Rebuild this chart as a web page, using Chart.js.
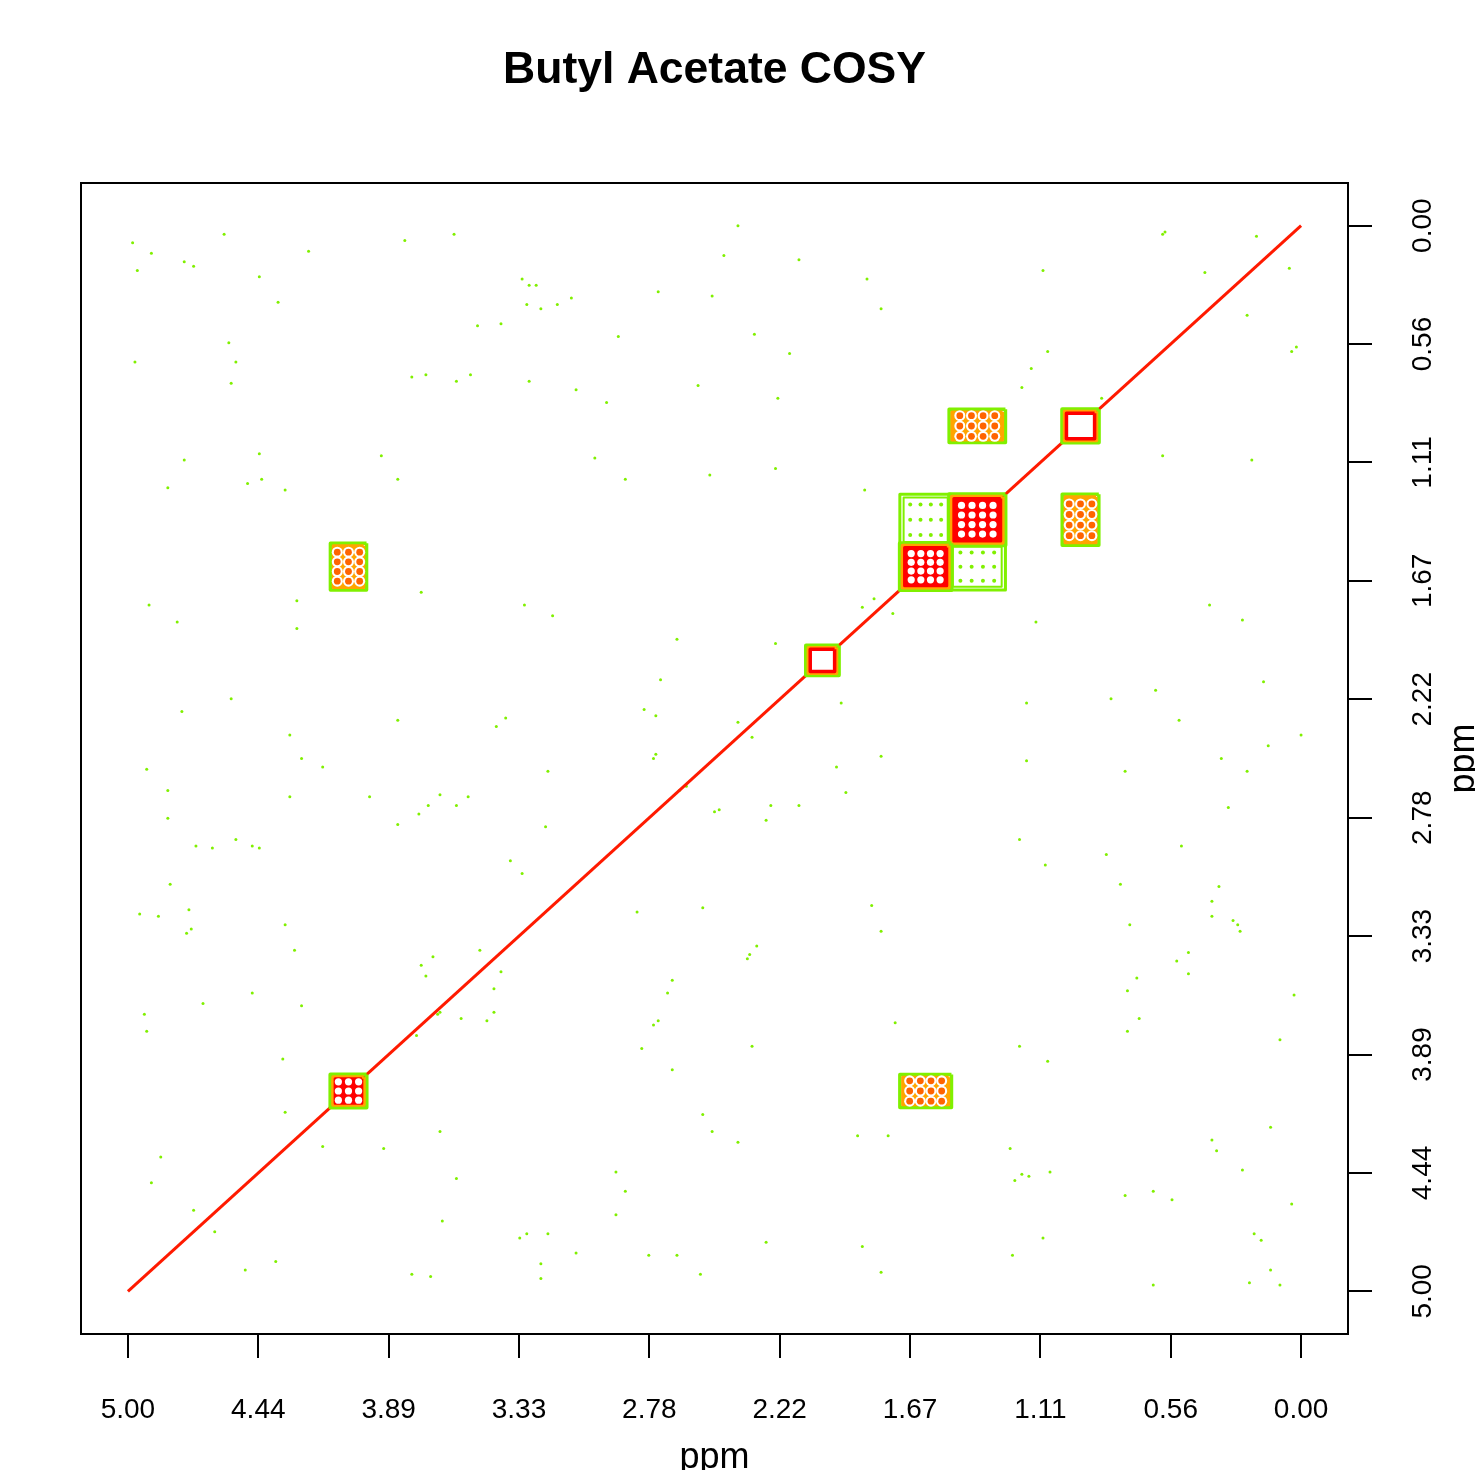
<!DOCTYPE html>
<html>
<head>
<meta charset="utf-8">
<title>Butyl Acetate COSY</title>
<script src="https://cdn.jsdelivr.net/npm/chart.js@4.4.1/dist/chart.umd.min.js"></script>
<style>
  html, body { margin: 0; padding: 0; background: #fff; }
  #wrap { width: 1475px; height: 1470px; }
</style>
</head>
<body>
<div id="wrap"><canvas id="cosy" width="1475" height="1470"></canvas></div>
<script>
// chemical shifts of the butyl acetate multiplets (ppm)
const shifts = [0.94, 1.38, 1.60, 2.04, 4.06];
const halfWidths = [0.078, 0.12, 0.11, 0.07, 0.077];
const multiplets = [3, 4, 4, 1, 3];
const hollowDiag = [true, false, false, true, false];
// cross peaks as [x shift index, y shift index]
const crossPeaks = [[1, 0], [0, 1], [4, 2], [2, 4]];
const weakCross = [[2, 1], [1, 2]];
const tickValues = [0, 5 / 9, 10 / 9, 15 / 9, 20 / 9, 25 / 9, 30 / 9, 35 / 9, 40 / 9, 5];

// low level noise specks
const noiseX = [
  4.98, 4.96, 4.90, 4.76, 4.72, 4.59, 4.44, 4.36, 4.23, 3.82, 3.61, 3.32, 3.29, 3.26, 3.30, 3.24,
  3.17, 3.11, 2.74, 2.51, 2.46, 2.40, 2.14, 1.85, 1.79, 1.10, 0.59, 0.58, 0.41, 0.19, 0.05, 0.23,
  4.97, 4.57, 4.54, 4.56, 3.79, 3.73, 3.60, 3.54, 3.51, 3.41, 3.29, 3.09, 2.91, 2.96, 2.57, 2.33,
  2.18, 2.23, 1.19, 1.15, 1.08, 0.02, 0.04, 0.85,
  4.76, 4.83, 4.49, 4.44, 4.43, 4.33, 3.92, 3.85, 3.01, 2.88, 2.52, 2.24, 1.86, 0.59, 0.21,
  4.91, 4.79, 4.28, 4.28, 3.75, 3.31, 3.19, 2.66, 2.73, 2.24, 1.87, 1.82, 1.74, 1.13, 0.39, 0.25,
  0.16, 0.62, 0.81, 1.17, 1.96, 4.56, 4.77, 2.80, 2.75,
  4.92, 4.83, 4.83, 4.31, 4.26, 4.17, 4.31, 3.85, 3.97, 3.43, 3.39, 3.21, 3.67, 3.72, 3.76, 3.60,
  3.55, 3.22, 2.75, 2.76, 2.62, 2.65, 2.40, 2.34, 2.26, 2.50, 2.48, 2.14, 2.28, 1.98, 1.94, 1.79,
  1.17, 0.75, 0.34, 0.23, 0.14, 0.00, 0.52, 0.31, 3.85,
  4.71, 4.64, 4.54, 4.47, 4.44, 4.82, 4.95, 4.87, 4.74, 4.75, 4.73, 4.33, 4.29, 3.37, 3.32, 2.83,
  2.55, 1.83, 1.79, 1.20, 1.09, 0.83, 0.51, 0.77, 0.73, 0.35, 0.38, 0.38, 0.29, 0.27, 0.26, 0.53,
  4.93, 4.92, 4.68, 4.47, 4.26, 3.75, 3.70, 3.73, 3.77, 3.68, 3.67, 3.58, 3.47, 3.44, 3.50, 3.41,
  3.44, 2.68, 2.70, 2.76, 2.74, 2.81, 2.36, 2.35, 2.32, 2.34, 1.73, 1.20, 1.08, 0.74, 0.70, 0.74,
  0.69, 0.48, 0.48, 0.03, 0.09,
  4.34, 4.33, 4.17, 3.91, 3.67, 3.60, 2.68, 2.55, 2.51, 2.40, 1.89, 1.76, 1.24, 1.19, 1.16, 1.22,
  1.07, 0.38, 0.36, 0.25, 0.13, 4.86, 4.90,
  4.72, 4.63, 4.50, 4.37, 3.79, 3.71, 3.66, 3.33, 3.30, 3.21, 3.24, 3.24, 3.09, 2.92, 2.88, 2.92,
  2.78, 2.66, 2.56, 2.28, 1.87, 1.79, 1.23, 1.10, 0.75, 0.63, 0.55, 0.63, 0.04, 0.20, 0.17, 0.13,
  0.22, 0.09,
];
const noiseY = [
  0.08, 0.21, 0.13, 0.17, 0.19, 0.04, 0.24, 0.36, 0.12, 0.07, 0.04, 0.25, 0.28, 0.28, 0.37, 0.39,
  0.37, 0.34, 0.31, 0.33, 0.14, 0.00, 0.16, 0.25, 0.39, 0.21, 0.04, 0.03, 0.22, 0.05, 0.20, 0.42,
  0.64, 0.55, 0.64, 0.74, 0.71, 0.70, 0.73, 0.70, 0.47, 0.46, 0.73, 0.77, 0.52, 0.83, 0.75, 0.51,
  0.60, 0.81, 0.76, 0.67, 0.59, 0.57, 0.59, 0.81,
  1.10, 1.23, 1.21, 1.07, 1.19, 1.24, 1.08, 1.19, 1.09, 1.19, 1.17, 1.14, 1.24, 1.08, 1.10,
  1.78, 1.86, 1.76, 1.89, 1.72, 1.78, 1.83, 1.94, 2.13, 1.96, 1.79, 1.75, 1.82, 1.86, 1.78, 1.85,
  2.14, 2.18, 2.22, 2.24, 2.24, 2.22, 2.28, 2.27, 2.30,
  2.55, 2.65, 2.78, 2.39, 2.50, 2.54, 2.68, 2.32, 2.68, 2.35, 2.31, 2.56, 2.67, 2.72, 2.76, 2.72,
  2.68, 2.82, 2.48, 2.50, 2.63, 2.65, 2.33, 2.40, 2.72, 2.75, 2.74, 2.72, 2.79, 2.54, 2.66, 2.49,
  2.51, 2.56, 2.50, 2.56, 2.44, 2.39, 2.32, 2.73, 2.81,
  2.91, 2.92, 2.88, 2.91, 2.92, 3.09, 3.23, 3.24, 3.21, 3.32, 3.30, 3.28, 3.40, 2.98, 3.04, 3.22,
  3.20, 3.19, 3.31, 2.88, 3.00, 2.95, 2.91, 3.09, 3.28, 3.10, 3.17, 3.24, 3.26, 3.28, 3.31, 3.45,
  3.70, 3.78, 3.65, 3.60, 3.66, 3.47, 3.43, 3.52, 3.80, 3.70, 3.69, 3.72, 3.73, 3.69, 3.40, 3.50,
  3.58, 3.54, 3.60, 3.75, 3.73, 3.86, 3.44, 3.42, 3.38, 3.85, 3.74, 3.85, 3.92, 3.59, 3.53, 3.78,
  3.72, 3.41, 3.51, 3.61, 3.82,
  3.91, 4.16, 4.32, 4.33, 4.25, 4.47, 3.96, 4.17, 4.25, 4.30, 4.27, 4.27, 4.33, 4.45, 4.46, 4.48,
  4.44, 4.29, 4.34, 4.43, 4.23, 4.37, 4.49,
  4.62, 4.72, 4.90, 4.86, 4.92, 4.93, 4.67, 4.75, 4.73, 4.73, 4.87, 4.94, 4.82, 4.44, 4.53, 4.64,
  4.83, 4.83, 4.92, 4.77, 4.79, 4.91, 4.83, 4.75, 4.55, 4.53, 4.57, 4.97, 4.59, 4.73, 4.76, 4.90,
  4.96, 4.97,
];

const FONT = '"Liberation Sans", Arial, Helvetica, sans-serif';
const GREEN = "#80f000";
const ORANGE = "#ffa500";
const DOT = "#ff6400";
const RED = "#ff0000";

// datasets are pushed bottom-first and reversed before use
const layers = [];

function box(cx, cy, hx, hy) {
  return [
    { x: cx - hx, y: cy - hy },
    { x: cx + hx, y: cy - hy },
    { x: cx + hx, y: cy + hy },
    { x: cx - hx, y: cy + hy },
    { x: cx - hx, y: cy - hy },
  ];
}

function outline(pts, color, width) {
  layers.push({
    data: pts, showLine: true, borderColor: color, borderWidth: width,
    borderJoinStyle: "round", pointRadius: 0, fill: false,
  });
}

function filled(pts, fillColor, edgeColor, width) {
  layers.push({
    data: pts, showLine: true, borderColor: edgeColor, borderWidth: width,
    borderJoinStyle: "round", backgroundColor: fillColor, fill: "shape", pointRadius: 0,
  });
}

function spots(cx, cy, hx, hy, nx, ny, color, r) {
  const pts = [];
  for (let i = 0; i < nx; i++) {
    for (let j = 0; j < ny; j++) {
      const x = nx === 1 ? cx : cx - hx + (2 * hx * i) / (nx - 1);
      const y = ny === 1 ? cy : cy - hy + (2 * hy * j) / (ny - 1);
      pts.push({ x, y });
    }
  }
  layers.push({
    data: pts, backgroundColor: color, borderWidth: 0, pointRadius: r,
    pointStyle: "circle", showLine: false,
  });
}

// noise
layers.push({
  data: noiseX.map((x, i) => ({ x, y: noiseY[i] })),
  backgroundColor: GREEN, borderWidth: 0, pointRadius: 1.5, showLine: false,
});

// diagonal
layers.push({
  data: [{ x: 5, y: 5 }, { x: 0, y: 0 }],
  showLine: true, borderColor: "#ff1a00", borderWidth: 3, pointRadius: 0, fill: false,
});

// weak cross peaks between the two middle CH2 groups
for (const [ix, iy] of weakCross) {
  const cx = shifts[ix], cy = shifts[iy];
  const hx = halfWidths[ix], hy = halfWidths[iy];
  outline(box(cx, cy, hx, hy), GREEN, 3);
  outline(box(cx, cy, hx - 0.016, hy - 0.016), GREEN, 2);
  spots(cx, cy, hx * 0.6, hy * 0.6, multiplets[ix], multiplets[iy] - 1, GREEN, 2);
}

// cross peaks
for (const [ix, iy] of crossPeaks) {
  const cx = shifts[ix], cy = shifts[iy];
  const hx = halfWidths[ix], hy = halfWidths[iy];
  outline(box(cx, cy, hx, hy), GREEN, 3.5);
  filled(box(cx, cy, hx - 0.012, hy - 0.012), ORANGE, ORANGE, 3);
  spots(cx, cy, hx * 0.62, hy * 0.62, multiplets[ix], multiplets[iy], "#ffffff", 5.5);
  spots(cx, cy, hx * 0.62, hy * 0.62, multiplets[ix], multiplets[iy], DOT, 3.4);
}

// diagonal peaks
shifts.forEach((s, i) => {
  const h = halfWidths[i];
  outline(box(s, s, h, h), GREEN, 4);
  if (hollowDiag[i]) {
    outline(box(s, s, h - 0.01, h - 0.01), ORANGE, 3.5);
    filled(box(s, s, h - 0.018, h - 0.018), "#ffffff", RED, 3.5);
  } else {
    outline(box(s, s, h - 0.012, h - 0.012), ORANGE, 4);
    filled(box(s, s, h - 0.02, h - 0.02), RED, RED, 3);
    spots(s, s, h * 0.56, h * 0.56, multiplets[i], multiplets[i], "#ffffff", 3.6);
  }
});

const plotBox = {
  id: "plotBox",
  afterDraw(chart) {
    const { ctx, chartArea: a } = chart;
    ctx.save();
    ctx.strokeStyle = "#000";
    ctx.lineWidth = 2;
    ctx.strokeRect(a.left, a.top, a.right - a.left, a.bottom - a.top);
    ctx.restore();
  },
};

// right axis labels read bottom to top
const rightLabels = {
  id: "rightLabels",
  afterDraw(chart) {
    const { ctx, chartArea: a } = chart;
    const y = chart.scales.y;
    ctx.save();
    ctx.fillStyle = "#000";
    ctx.textAlign = "center";
    ctx.textBaseline = "alphabetic";
    ctx.font = `28px ${FONT}`;
    for (const v of tickValues) {
      ctx.save();
      ctx.translate(y.left + 83, y.getPixelForValue(v));
      ctx.rotate(-Math.PI / 2);
      ctx.fillText(v.toFixed(2), 0, 0);
      ctx.restore();
    }
    ctx.font = `36px ${FONT}`;
    ctx.translate(y.left + 126, (a.top + a.bottom) / 2);
    ctx.rotate(-Math.PI / 2);
    ctx.fillText("ppm", 0, 0);
    ctx.restore();
  },
};

const tickMarks = { drawOnChartArea: false, drawTicks: true, tickLength: 24, color: "#000", lineWidth: 2 };

new Chart(document.getElementById("cosy"), {
  type: "scatter",
  data: { datasets: layers.reverse() },
  options: {
    responsive: false,
    devicePixelRatio: 1,
    animation: false,
    layout: { padding: { left: 81, right: 0, top: 0, bottom: 0 } },
    plugins: {
      legend: { display: false },
      tooltip: { enabled: false },
      title: {
        display: true,
        fullSize: false,
        text: "Butyl Acetate COSY",
        color: "#000",
        font: { family: FONT, size: 44.5, weight: "bold", lineHeight: 1.2 },
        padding: { top: 44, bottom: 85.6 },
      },
    },
    scales: {
      x: {
        type: "linear",
        position: "bottom",
        reverse: true,
        min: -0.2,
        max: 5.2,
        afterBuildTicks: (scale) => { scale.ticks = tickValues.map((v) => ({ value: v })); },
        afterFit: (scale) => { scale.height = 136; },
        grid: tickMarks,
        border: { display: false },
        ticks: {
          color: "#000",
          font: { family: FONT, size: 28 },
          padding: 35,
          maxRotation: 0,
          callback: (v) => Number(v).toFixed(2),
        },
        title: {
          display: true,
          text: "ppm",
          color: "#000",
          font: { family: FONT, size: 36, lineHeight: 0.65 },
          padding: { top: 0, bottom: 0 },
        },
      },
      y: {
        type: "linear",
        position: "right",
        reverse: true,
        min: -0.2,
        max: 5.2,
        afterBuildTicks: (scale) => { scale.ticks = tickValues.map((v) => ({ value: v })); },
        afterFit: (scale) => { scale.width = 127; },
        grid: tickMarks,
        border: { display: false },
        ticks: { display: false },
      },
    },
  },
  plugins: [plotBox, rightLabels],
});
</script>
</body>
</html>
